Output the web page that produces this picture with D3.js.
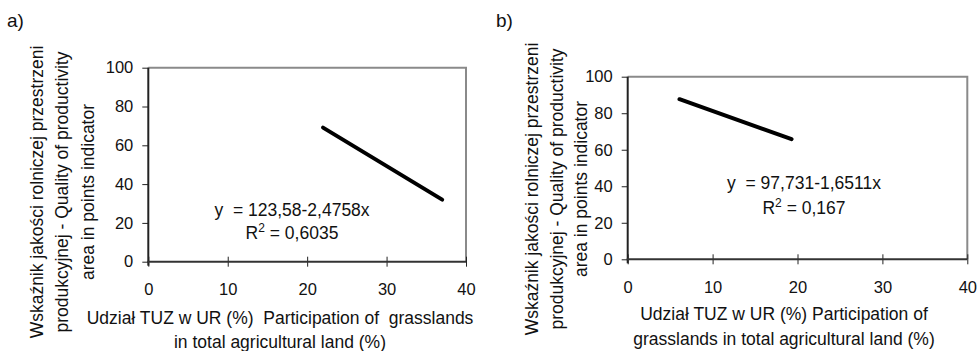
<!DOCTYPE html>
<html>
<head>
<meta charset="utf-8">
<script src="https://cdn.jsdelivr.net/npm/d3@7"></script>
<style>
  html, body { margin: 0; padding: 0; background: #fff; }
  svg { display: block; }
  text { font-family: "Liberation Sans", Arial, sans-serif; fill: #111; white-space: pre; }
</style>
</head>
<body>
<svg id="chart" width="978" height="351"></svg>
<script>
// ---- data ----
const panelLabels = ["a)", "b)"];
const xTicks = [0, 10, 20, 30, 40];
const yTicks = [0, 20, 40, 60, 80, 100];
// trend line endpoints (x, y)
const lineA_x = [22, 37];
const lineA_y = [69.1, 31.98];
const lineB_x = [6.1, 19.3];
const lineB_y = [87.66, 65.8];
const eqA = ["y  = 123,58-2,4758x", "0,6035"];
const eqB = ["y  = 97,731-1,6511x", "0,167"];
const yTitle = ["Wskaźnik jakości rolniczej przestrzeni", "produkcyjnej - Quality of productivity", "area in points indicator"];
const xTitleA = ["Udział TUZ w UR (%)  Participation of  grasslands", "in total agricultural land (%)"];
const xTitleB = ["Udział TUZ w UR (%) Participation of", "grasslands in total agricultural land (%)"];

const svg = d3.select("#chart");

const panels = [
  { label: panelLabels[0], labelX: 7, labelY: 27,
    xr: [148.3, 466], yr: [261.7, 67.7],
    lx: lineA_x, ly: lineA_y, eq: eqA, eqX: 292, eqY: [215.6, 238.6],
    yTitleX: [43, 68, 93.5], yTitleCY: 192,
    xTitle: xTitleA, xTitleCX: 280, xTitleY: [324.3, 348] },
  { label: panelLabels[1], labelX: 496, labelY: 27,
    xr: [627.7, 967.3], yr: [259.3, 76.7],
    lx: lineB_x, ly: lineB_y, eq: eqB, eqX: 804, eqY: [189, 213.6],
    yTitleX: [538, 563, 587], yTitleCY: 189,
    xTitle: xTitleB, xTitleCX: 784, xTitleY: [319.5, 344.5] }
];

const FS = 17.5;
const TFS = 16.5;

panels.forEach(p => {
  const x = d3.scaleLinear().domain([0, 40]).range(p.xr);
  const y = d3.scaleLinear().domain([0, 100]).range(p.yr);
  const g = svg.append("g");

  // gray frame (top & right)
  g.append("path")
    .attr("d", `M${x(0)},${y(100)}H${x(40)}V${y(0)}`)
    .attr("fill", "none").attr("stroke", "#8a8a8a").attr("stroke-width", 2);

  // y axis
  const ya = d3.axisLeft(y).tickValues(yTicks).tickSize(6).tickPadding(9).tickFormat(d3.format("d"));
  const yg = g.append("g").attr("transform", `translate(${x(0)},0)`).call(ya);
  yg.select(".domain").remove();
  yg.selectAll(".tick line").attr("stroke", "#222").attr("stroke-width", 1);
  yg.selectAll(".tick text").attr("font-size", TFS).attr("font-family", "Liberation Sans, Arial, sans-serif").attr("fill", "#111");

  // x axis ticks (crossing)
  const xa = d3.axisBottom(x).tickValues(xTicks).tickSize(5).tickPadding(17).tickFormat(d3.format("d"));
  const xg = g.append("g").attr("transform", `translate(0,${y(0)})`).call(xa);
  xg.select(".domain").remove();
  xg.selectAll(".tick line").attr("y1", -5).attr("y2", 5).attr("stroke", "#222").attr("stroke-width", 1);
  xg.selectAll(".tick text").attr("font-size", TFS).attr("font-family", "Liberation Sans, Arial, sans-serif").attr("fill", "#111");

  // axis lines
  g.append("line").attr("x1", x(0)).attr("x2", x(0)).attr("y1", y(100)).attr("y2", y(0) + 4)
    .attr("stroke", "#222").attr("stroke-width", 2);
  g.append("line").attr("x1", x(0) - 1).attr("x2", x(40)).attr("y1", y(0)).attr("y2", y(0))
    .attr("stroke", "#333").attr("stroke-width", 2);

  // trend line
  const pts = p.lx.map((v, i) => [v, p.ly[i]]);
  g.append("path")
    .attr("d", d3.line().x(d => x(d[0])).y(d => y(d[1]))(pts))
    .attr("fill", "none").attr("stroke", "#000").attr("stroke-width", 4).attr("stroke-linecap", "round");

  // equation
  g.append("text").attr("x", p.eqX).attr("y", p.eqY[0]).attr("text-anchor", "middle")
    .attr("font-size", FS).text(p.eq[0]);
  const r = g.append("text").attr("x", p.eqX).attr("y", p.eqY[1]).attr("text-anchor", "middle")
    .attr("font-size", FS);
  r.append("tspan").text("R");
  r.append("tspan").attr("dy", -7).attr("font-size", 12).text("2");
  r.append("tspan").attr("dy", 7).text(" = " + p.eq[1]);

  // panel label
  g.append("text").attr("x", p.labelX).attr("y", p.labelY).attr("font-size", 19).text(p.label);

  // y title
  yTitle.forEach((t, i) => {
    g.append("text")
      .attr("transform", `translate(${p.yTitleX[i]},${p.yTitleCY}) rotate(-90)`)
      .attr("text-anchor", "middle").attr("font-size", FS).text(t);
  });

  // x title
  p.xTitle.forEach((t, i) => {
    g.append("text").attr("x", p.xTitleCX).attr("y", p.xTitleY[i])
      .attr("text-anchor", "middle").attr("font-size", FS).text(t);
  });
});
</script>
</body>
</html>
